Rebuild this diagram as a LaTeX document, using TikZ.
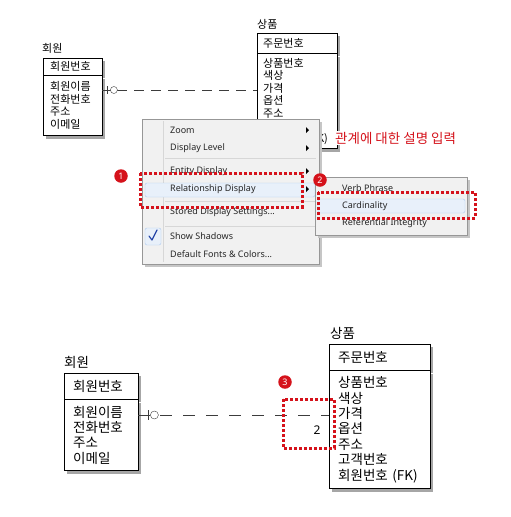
\documentclass[tikz,border=0pt]{standalone}
\usepackage{fontspec}
\setmainfont{Noto Sans}
\newfontfamily\kr{Noto Sans CJK KR}
\usepackage{tikz}
\usetikzlibrary{positioning,calc,shadows}
\definecolor{menubg}{HTML}{F1F1F1}
\definecolor{menuedge}{HTML}{979797}
\definecolor{sepline}{HTML}{D7D7D7}
\definecolor{hilite}{HTML}{E8F0FA}
\definecolor{hiedge}{HTML}{AECBEF}
\definecolor{alert}{HTML}{D5121B}
\definecolor{relline}{HTML}{3C3C3C}
\definecolor{checkblue}{HTML}{2646A8}

\begin{document}
\begin{tikzpicture}[x=1pt, y=-1pt,
  entbox/.style={draw, fill=white, anchor=north west, align=left, inner ysep=0pt,
    general shadow={fill=gray!70, shadow xshift=3pt, shadow yshift=-3pt}},
  entname/.style={anchor=south west, inner sep=1pt},
  item/.style={anchor=west, inner sep=0pt, font=\fontsize{9}{10}\selectfont, text=black!85},
  redbox/.style={alert, line width=3pt, dash pattern=on 3pt off 2pt},
  badge/.style={circle, fill=alert, text=white, inner sep=0pt, minimum size=13.5pt,
    font=\bfseries\fontsize{9}{9}\selectfont},
  hibar/.style={draw=hiedge, fill=hilite, rounded corners=2pt}]
  \useasboundingbox (0,0) rectangle (511,517);

  % top: entities before the menu
  \begin{scope}[font=\kr\fontsize{11}{12.5}\selectfont]
    \node[entname] (e1name) at (41,55) {회원};
    \node[entbox, inner xsep=7pt, text width=45pt, minimum height=17pt] (e1key) at (43,58) {회원번호};
    \node[entbox, inner xsep=7pt, text width=45pt, minimum height=60pt] (e1attr) at (e1key.south west)
      {회원이름\\전화번호\\주소\\이메일};
    \node[entname] (e2name) at (256,31) {상품};
    \node[entbox, inner xsep=6pt, text width=68pt, minimum height=20pt] (e2key) at (257,33) {주문번호};
    \node[entbox, inner xsep=6pt, text width=68pt, minimum height=95pt] (e2attr) at (e2key.south west)
      {상품번호\\색상\\가격\\옵션\\주소\\고객번호\\회원번호 (FK)};
  \end{scope}
  \coordinate (y1) at (0,90);
  \coordinate (r1a) at (e1attr.east |- y1);
  \coordinate (r1b) at (e2attr.west |- y1);
  \draw[relline] (r1a) -- ++(10,0);
  \draw[relline] ($(r1a)+(5,-4)$) -- ++(0,8);
  \draw[relline, dash pattern=on 10pt off 7pt] ($(r1a)+(15,0)$) -- (r1b);
  \draw[relline, fill=white] ($(r1a)+(11.5,0)$) circle (3.5pt);
  \node[anchor=west, fill=white, inner sep=1pt, text=alert, font=\kr\fontsize{13.5}{13.5}\selectfont]
    (note) at (334,138) {관계에 대한 설명 입력};

  % context menu
  \node[draw=menuedge, fill=menubg, anchor=north west, minimum width=177pt, minimum height=145pt,
    inner sep=0pt, general shadow={fill=gray!45, shadow xshift=2.5pt, shadow yshift=-2.5pt}]
    (menu) at (142,119) {};
  \draw[sepline] (163,121) -- (163,262);
  \foreach \y in {158,201,226}
    \draw[sepline] (165,\y) -- (316,\y);
  \draw[hibar] (145,183) rectangle (315,197);
  \draw[hibar] (145,228) rectangle (161,245);
  \draw[checkblue, line width=1.2pt, line cap=round, line join=round] (149,236) -- (152,240) -- (157,230);
  \node[item] (zoom) at (170,130) {Zoom};
  \node[item] (level) at (170,148) {Display Level};
  \node[item] (entity) at (170,171) {Entity Display};
  \node[item] (reldisp) at (170,189) {Relationship Display};
  \node[item] (stored) at (170,212) {Stored Display Settings...};
  \node[item] (shadows) at (170,236) {Show Shadows};
  \node[item] (fonts) at (170,254) {Default Fonts \& Colors...};
  \foreach \y in {130,148,171,189}
    \fill (306,\y-3) -- (309,\y) -- (306,\y+3) -- cycle;

  % submenu
  \node[draw=menuedge, fill=menubg, anchor=north west, minimum width=152pt, minimum height=58pt,
    inner sep=0pt, general shadow={fill=gray!45, shadow xshift=2.5pt, shadow yshift=-2.5pt}]
    (submenu) at (315,177) {};
  \draw[hibar] (318,199) rectangle (465,213);
  \node[item] (verb) at (342,188) {Verb Phrase};
  \node[item] (cardin) at (342,206) {Cardinality};
  \node[item] (refint) at (342,223) {Referential Integrity};

  % callouts
  \draw[redbox] (140,173) rectangle (302,207);
  \draw[redbox] (318,192) rectangle (475,218);
  \node[badge] (b1) at (121,176) {1};
  \node[badge] (b2) at (320,180) {2};

  % bottom: result
  \begin{scope}[font=\kr\fontsize{13.5}{15.4}\selectfont]
    \node[entname] (e3name) at (63,370) {회원};
    \node[entbox, inner xsep=9pt, text width=56pt, minimum height=26pt] (e3key) at (64,373) {회원번호};
    \node[entbox, inner xsep=9pt, text width=56pt, minimum height=71pt] (e3attr) at (e3key.south west)
      {회원이름\\전화번호\\주소\\이메일};
    \node[entname] (e4name) at (329,341) {상품};
    \node[entbox, inner xsep=9pt, text width=83pt, minimum height=26pt] (e4key) at (329,344) {주문번호};
    \node[entbox, inner xsep=9pt, text width=83pt, minimum height=118pt] (e4attr) at (e4key.south west)
      {상품번호\\색상\\가격\\옵션\\주소\\고객번호\\회원번호 (FK)};
  \end{scope}
  \coordinate (y2) at (0,415);
  \coordinate (r2a) at (e3attr.east |- y2);
  \coordinate (r2b) at (e4attr.west |- y2);
  \draw[relline] (r2a) -- ++(12,0);
  \draw[relline] ($(r2a)+(10,-5)$) -- ++(0,10);
  \draw[relline, dash pattern=on 12pt off 11pt] ($(r2a)+(22,0)$) -- (r2b);
  \draw[relline, fill=white] ($(r2a)+(16,0)$) circle (4pt);
  \node[font=\fontsize{12}{12}\selectfont] (card) at (317,430) {2};
  \draw[redbox] (283,399) rectangle (334,448);
  \node[badge] (b3) at (285,382) {3};
\end{tikzpicture}
\end{document}
